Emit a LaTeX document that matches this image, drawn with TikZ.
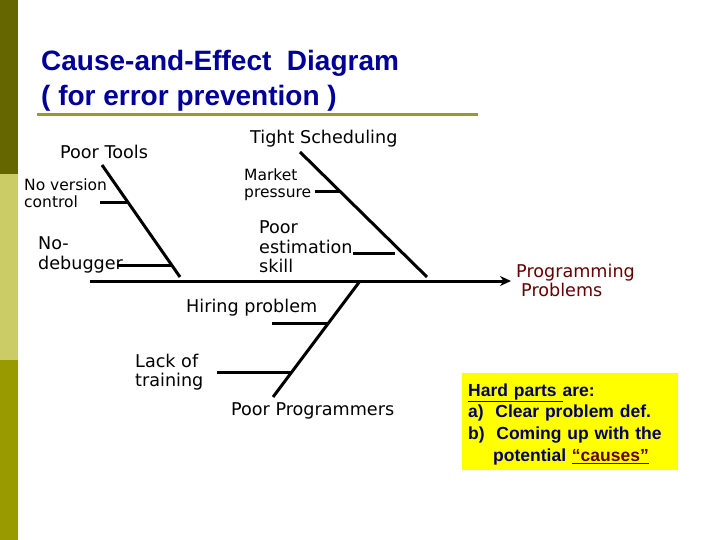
\documentclass[tikz,border=0pt]{standalone}
\usepackage{fontspec}
\setmainfont{Liberation Sans}
\newfontfamily\verdana{DejaVu Sans}
\usetikzlibrary{arrows.meta}

\definecolor{barDark}{HTML}{666600}
\definecolor{barLight}{HTML}{CCCC66}
\definecolor{barMid}{HTML}{999900}
\definecolor{ruleOlive}{HTML}{999933}
\definecolor{titleBlue}{HTML}{000099}
\definecolor{effectRed}{HTML}{660000}
\definecolor{noteNavy}{HTML}{000066}
\definecolor{noteYellow}{HTML}{FFFF00}

\begin{document}
\begin{tikzpicture}[
		x=1pt, y=-1pt,
		bone/.style={line width=3pt},
		cause/.style={inner sep=0, anchor=west, align=left, font=\verdana\fontsize{17.6}{19.5}\selectfont},
		subcause/.style={cause, font=\verdana\fontsize{15.5}{17}\selectfont},
		title/.style={inner sep=0, anchor=west, align=left, text=titleBlue, font=\bfseries\fontsize{28}{35}\selectfont}
		]
		
		\useasboundingbox (0,0) rectangle (720,540);
		\fill[barDark] (0,0) rectangle (18,174);
		\fill[barLight] (0,174) rectangle (18,360);
		\fill[barMid] (0,360) rectangle (18,540);
		
		\node[title] (heading) at (41,80.5) {Cause-and-Effect\ \ Diagram\\( for error prevention )};
		\coordinate (ruleL) at (37,115);
		\coordinate (ruleR) at (478,115);
		\draw[ruleOlive, line width=3pt] (ruleL) -- (ruleR);
		
		\coordinate (tail) at (90,281);
		\coordinate (head) at (511,281);
		\draw[bone, -{Stealth[length=11pt, width=10pt]}] (tail) -- (head);
		
		\coordinate (toolsTop) at (102,165);
		\coordinate (toolsEnd) at (180,277);
		\coordinate (schedTop) at (300,152);
		\coordinate (schedEnd) at (427,277);
		\coordinate (progTop) at (360,281);
		\coordinate (progEnd) at (273,397);
		\draw[bone] (toolsTop) -- (toolsEnd);
		\draw[bone] (schedTop) -- (schedEnd);
		\draw[bone] (progTop) -- (progEnd);
		
		\coordinate (versionA) at (100,203);
		\coordinate (versionB) at (128,203);
		\coordinate (debugA) at (117,265);
		\coordinate (debugB) at (171,265);
		\coordinate (marketA) at (315,192);
		\coordinate (marketB) at (340,192);
		\coordinate (estimA) at (353,253);
		\coordinate (estimB) at (395,253);
		\coordinate (hiringA) at (272,323);
		\coordinate (hiringB) at (328,323);
		\coordinate (trainA) at (217,372);
		\coordinate (trainB) at (292,372);
		\foreach \a/\b in {versionA/versionB, debugA/debugB, marketA/marketB, estimA/estimB, hiringA/hiringB, trainA/trainB}
			\draw[bone] (\a) -- (\b);
		
		\node[cause] (tools) at (60,152) {Poor Tools};
		\node[cause] (sched) at (250,139) {Tight Scheduling};
		\node[subcause] (version) at (24,193.5) {No version\\control};
		\node[subcause] (market) at (244,184.5) {Market\\pressure};
		\node[cause] (debug) at (38,255) {No-\\debugger};
		\node[cause] (estim) at (259,247) {Poor\\estimation\\skill};
		\node[cause] (hiring) at (186,308) {Hiring problem};
		\node[cause] (train) at (135,372) {Lack of\\training};
		\node[cause] (prog) at (231,411) {Poor Programmers};
		\node[cause, text=effectRed] (effect) at (516,280.5) {Programming\\\hspace{5pt}Problems};
		
		\node[anchor=north west, fill=noteYellow, text=noteNavy, text width=204pt,
			inner xsep=6pt, inner ysep=5pt, align=left, font=\bfseries\fontsize{17.5}{21.7}\selectfont] (note) at (462,373)
			{\rule{0pt}{18pt}\underline{Hard parts\ }are:\\
			a)\ \ Clear problem def.\\
			b)\ \ Coming up with the\\
			\hspace{25pt}potential {\color{effectRed}\underline{“causes”}}};
		
	\end{tikzpicture}
\end{document}
